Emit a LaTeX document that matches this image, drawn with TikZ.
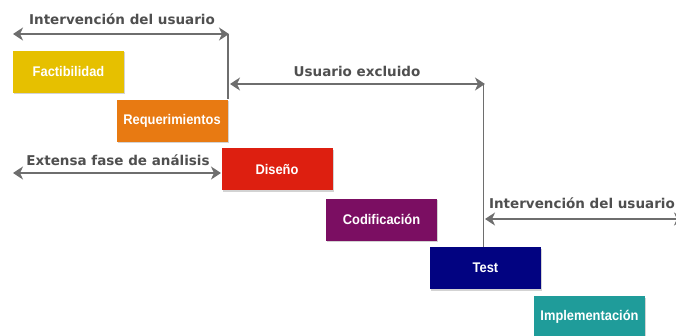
\documentclass[tikz,border=0pt]{standalone}
\usepackage{fontspec}
\setmainfont{Liberation Sans}
\newfontfamily\boxfont{Liberation Sans}[FakeStretch=0.92]
\newfontfamily\lblfont{DejaVu Sans}
\usetikzlibrary{arrows.meta,shadows}
\definecolor{cfact}{HTML}{E6C000}
\definecolor{creq}{HTML}{E87A12}
\definecolor{cdis}{HTML}{DD1F10}
\definecolor{ccod}{HTML}{7B0E62}
\definecolor{ctest}{HTML}{020381}
\definecolor{cimp}{HTML}{1F9C9A}
\definecolor{cline}{HTML}{6E6E6E}
\definecolor{clabel}{HTML}{4F4F4F}
\tikzset{
  phase/.style={fill=#1, draw=none, minimum width=111pt, minimum height=42pt,
    text=white, font=\boxfont\bfseries\fontsize{14}{16}\selectfont, inner sep=0pt,
    drop shadow={shadow xshift=1.2pt, shadow yshift=-1.5pt, opacity=0.35}},
  dim/.style={draw=cline, line width=2pt, {Stealth[length=10pt,width=13pt,inset=3pt]}-{Stealth[length=10pt,width=13pt,inset=3pt]}},
  guide/.style={draw=cline, line width=1.6pt},
  lbl/.style={text=clabel, font=\lblfont\bfseries\fontsize{13.5}{15}\selectfont, inner sep=0pt}
}
\begin{document}
\begin{tikzpicture}[x=1pt,y=-1pt]
\useasboundingbox (0,0) rectangle (676,335);
\node[phase=cfact] (fact) at (68.5,71.5) {Factibilidad};
\node[phase=creq] (req) at (172,120.5) {Requerimientos};
\node[phase=cdis] (dis) at (277,169) {Diseño};
\node[phase=ccod] (cod) at (381.5,219.5) {Codificación};
\node[phase=ctest] (test) at (485.5,268) {Test};
\node[phase=cimp] (imp) at (589.5,317) {Implementación};

\coordinate (a1l) at (13,34);
\coordinate (a1r) at (229,34);
\coordinate (a2l) at (230,84);
\coordinate (a2r) at (485,84);
\coordinate (a3l) at (13,173);
\coordinate (a3r) at (221,173);
\coordinate (a4l) at (485,219);
\coordinate (a4r) at (684,219);

\draw[guide] (228,34) -- (req.north -| 228,0);
\draw[guide] (483.5,84) -- (test.north -| 483.5,0);

\draw[dim] (a1l) -- (a1r);
\draw[dim] (a2l) -- (a2r);
\draw[dim] (a3l) -- (a3r);
\draw[dim] (a4l) -- (a4r);

\node[lbl] (l1) at (122,19) {Intervención del usuario};
\node[lbl] (l2) at (357,71) {Usuario excluido};
\node[lbl] (l3) at (118,160) {Extensa fase de análisis};
\node[lbl, anchor=east] (l4) at (675,203) {Intervención del usuario};
\end{tikzpicture}
\end{document}
